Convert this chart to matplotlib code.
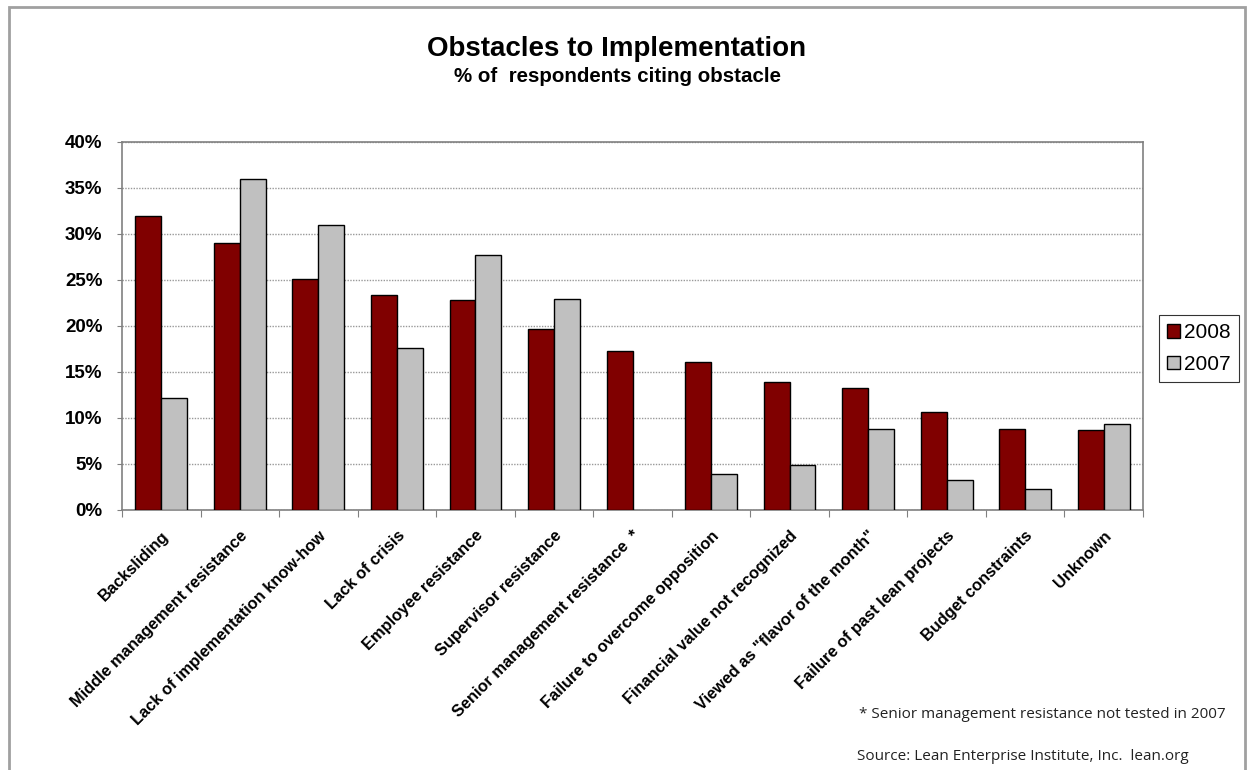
import matplotlib
matplotlib.use("Agg")
import matplotlib.pyplot as plt
import numpy as np
from matplotlib.patches import Rectangle

categories = ["Backsliding", "Middle management resistance", "Lack of implementation know-how",
              "Lack of crisis", "Employee resistance", "Supervisor resistance",
              "Senior management resistance  *", "Failure to overcome opposition",
              "Financial value not recognized", "Viewed as \"flavor of the month\"",
              "Failure of past lean projects", "Budget constraints", "Unknown"]
values_2008 = [32.0, 29.0, 25.1, 23.4, 22.8, 19.7, 17.3, 16.1, 13.9, 13.3, 10.6, 8.8, 8.7]
values_2007 = [12.2, 36.0, 31.0, 17.6, 27.7, 22.9, np.nan, 3.9, 4.9, 8.8, 3.3, 2.25, 9.3]
series_names = ["2008", "2007"]
yticks = [0, 5, 10, 15, 20, 25, 30, 35, 40]

plt.rcParams['font.family'] = ['Liberation Sans', 'DejaVu Sans']

fig = plt.figure(figsize=(12.48, 7.7), dpi=100)
ax = fig.add_axes([122/1248, 1-510/770, (1143-122)/1248, (510-142)/770])

x = np.arange(len(categories))
w = 0.33
ax.bar(x + 0.5 - w, values_2008, width=w, align='edge', color='#800000',
       edgecolor='black', linewidth=1.0, label=series_names[0], zorder=3)
ax.bar(x + 0.5, values_2007, width=w, align='edge', color='#C0C0C0',
       edgecolor='black', linewidth=1.0, label=series_names[1], zorder=3)

ax.set_xlim(0, len(categories))
ax.set_ylim(0, 40)
ax.set_yticks(yticks)
ax.set_yticklabels([f"{t}%" for t in yticks], fontsize=13.5, fontweight='bold')
ax.yaxis.grid(True, linestyle=(0, (1, 1)), color='#999999', linewidth=1.0, zorder=0)

ax.set_xticks(np.arange(len(categories) + 1))
ax.set_xticklabels([])
ax.set_xticks(x + 0.5, minor=True)
ax.set_xticklabels(categories, minor=True, rotation=45, ha='right',
                   rotation_mode='anchor', fontsize=11.8, fontweight='bold')
ax.tick_params(axis='x', which='minor', length=0, pad=13)
ax.tick_params(axis='x', which='major', length=5, color='#808080', direction='out')
ax.tick_params(axis='y', length=3.6, color='#808080', direction='out', pad=10.5)
for s in ax.spines.values():
    s.set_color('#808080')
    s.set_linewidth(1.2)

leg = fig.legend(loc='upper left', bbox_to_anchor=(1159/1248, 1-315/770),
                 frameon=True, fancybox=False, edgecolor='black', fontsize=15,
                 handlelength=0.6, handleheight=0.6, handletextpad=0.2,
                 borderpad=0.4, labelspacing=0.6, borderaxespad=0)
leg.get_frame().set_linewidth(0.8)

fig.text(617/1248, 1-49/770, "Obstacles to Implementation", ha='center', va='center',
         fontsize=20, fontweight='bold')
fig.text(617/1248, 1-77/770, "% of  respondents citing obstacle", ha='center', va='center',
         fontsize=14.8, fontweight='bold')

fig.text(859/1248, 1-715/770, "* Senior management resistance not tested in 2007",
         ha='left', va='center', fontsize=11, family=['Open Sans', 'DejaVu Sans'], color='#222222')
fig.text(857/1248, 1-757/770, "Source: Lean Enterprise Institute, Inc.  lean.org",
         ha='left', va='center', fontsize=11, family=['Open Sans', 'DejaVu Sans'], color='#222222')

fig.patches.append(Rectangle((9/1248, -0.1), (1245-9)/1248, 1.1 - 7/770,
                             transform=fig.transFigure, fill=False,
                             edgecolor='#A0A0A0', linewidth=2))

fig.savefig("out.png", dpi=100)
